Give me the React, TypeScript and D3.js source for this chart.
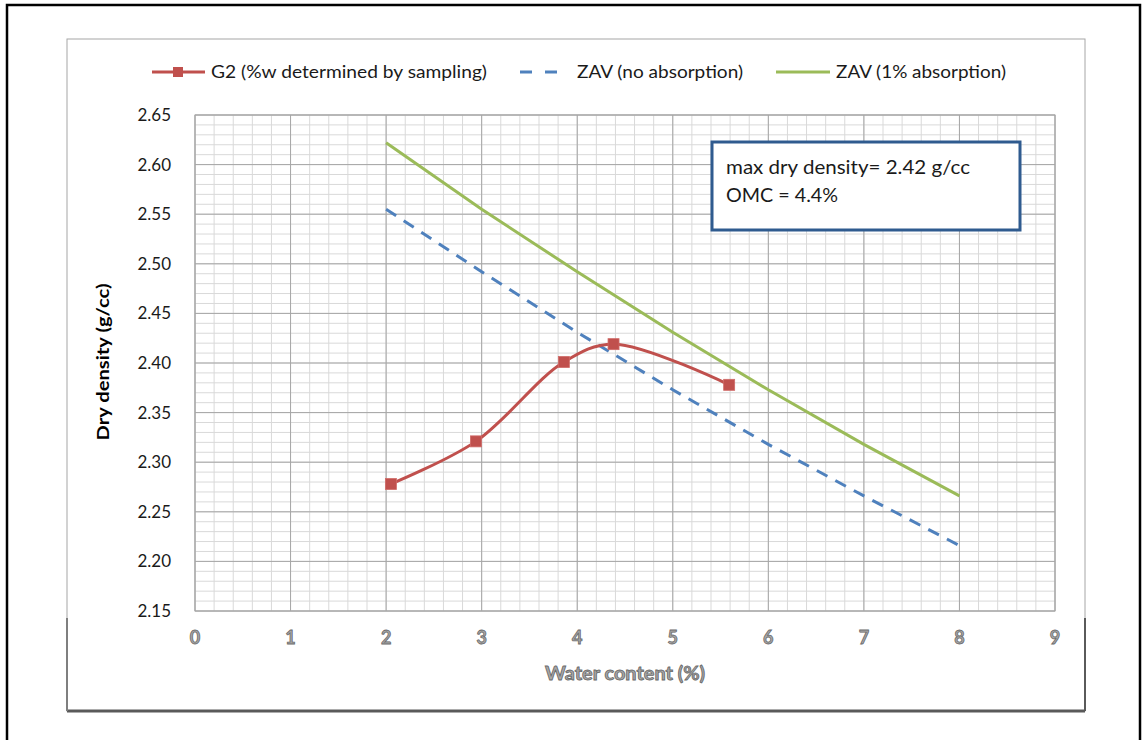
import React from 'react';
import * as d3 from 'd3';

// G2 compaction points (%w determined by sampling)
const g2Water = [2.05, 2.94, 3.86, 4.38, 5.59];
const g2Density = [2.278, 2.321, 2.401, 2.419, 2.378];

// zero air voids lines
const zavWater = [2, 3, 4, 5, 6, 7, 8];
const zavNoAbs = [2.555, 2.492, 2.431, 2.373, 2.318, 2.266, 2.216];
const zav1Abs = [2.622, 2.555, 2.492, 2.431, 2.373, 2.318, 2.266];

const xTicks = [0, 1, 2, 3, 4, 5, 6, 7, 8, 9];
const yTicks = [2.15, 2.2, 2.25, 2.3, 2.35, 2.4, 2.45, 2.5, 2.55, 2.6, 2.65];

const legendLabels = ['G2 (%w determined by sampling)', 'ZAV (no absorption)', 'ZAV (1% absorption)'];
const noteLines = ['max dry density= 2.42 g/cc', 'OMC = 4.4%'];

const RED = '#c0504d';
const BLUE = '#4f81bd';
const GREEN = '#9bbb59';
const FONT = 'Lato, "Open Sans", sans-serif';

export default function App() {
  const width = 1143;
  const height = 740;
  const plot = { left: 195, right: 1055, top: 115, bottom: 611 };

  const x = d3.scaleLinear().domain([0, 9]).range([plot.left, plot.right]);
  const y = d3.scaleLinear().domain([2.15, 2.65]).range([plot.bottom, plot.top]);

  const minorX = d3.range(0, 9.0001, 0.2);
  const minorY = d3.range(2.15, 2.6501, 0.01);

  const line = d3.line<[number, number]>().x(d => x(d[0])).y(d => y(d[1]));
  const smooth = d3.line<[number, number]>().x(d => x(d[0])).y(d => y(d[1])).curve(d3.curveCatmullRom.alpha(0.5));

  const g2 = g2Water.map((w, i) => [w, g2Density[i]] as [number, number]);
  const noAbs = zavWater.map((w, i) => [w, zavNoAbs[i]] as [number, number]);
  const oneAbs = zavWater.map((w, i) => [w, zav1Abs[i]] as [number, number]);

  // washed-out grey look of the x axis text
  const greyText = { fill: '#a8a8a8', stroke: '#6a6a6a', strokeWidth: 0.8 };

  return (
    <svg width={width} height={height} style={{ position: 'absolute', left: 0, top: 0, background: '#fff' }} fontFamily={FONT}>
      {/* outer page frame */}
      <rect x={7} y={5} width={1133} height={760} fill="none" stroke="#000" strokeWidth={2.5} />
      {/* chart frame */}
      <rect x={67} y={39} width={1018} height={672} fill="#fff" stroke="#a6a6a6" strokeWidth={1} />
      <line x1={67} x2={1085} y1={711} y2={711} stroke="#5a5a5a" strokeWidth={3} />
      <line x1={67} x2={67} y1={618} y2={711} stroke="#7f7f7f" strokeWidth={2} />
      <line x1={1085} x2={1085} y1={618} y2={711} stroke="#5a5a5a" strokeWidth={2} />

      {/* grid */}
      {minorX.map((v, i) => (
        <line key={'mx' + i} x1={x(v)} x2={x(v)} y1={plot.top} y2={plot.bottom} stroke="#d9d9d9" strokeWidth={1} />
      ))}
      {minorY.map((v, i) => (
        <line key={'my' + i} x1={plot.left} x2={plot.right} y1={y(v)} y2={y(v)} stroke="#d9d9d9" strokeWidth={1} />
      ))}
      {xTicks.map(v => (
        <line key={'gx' + v} x1={x(v)} x2={x(v)} y1={plot.top} y2={plot.bottom} stroke="#a6a6a6" strokeWidth={1} />
      ))}
      {yTicks.map(v => (
        <line key={'gy' + v} x1={plot.left} x2={plot.right} y1={y(v)} y2={y(v)} stroke="#a6a6a6" strokeWidth={1} />
      ))}
      <rect x={plot.left} y={plot.top} width={plot.right - plot.left} height={plot.bottom - plot.top} fill="none" stroke="#a6a6a6" />

      {/* y tick labels */}
      {yTicks.map(v => (
        <text key={'ty' + v} x={171} y={y(v)} dy="0.35em" textAnchor="end" fontSize={17} fill="#1a1a1a">
          {d3.format('.2f')(v)}
        </text>
      ))}
      {/* x tick labels */}
      {xTicks.map(v => (
        <text key={'tx' + v} x={x(v)} y={644} textAnchor="middle" fontSize={18} fontWeight="bold" {...greyText}>
          {v}
        </text>
      ))}

      {/* axis titles */}
      <text x={625} y={680} textAnchor="middle" fontSize={18} fontWeight="bold" textLength={160} lengthAdjust="spacingAndGlyphs" {...greyText}>
        Water content (%)
      </text>
      <text transform={`translate(109,362) rotate(-90)`} textAnchor="middle" fontSize={17} fontWeight="bold" fill="#000"
        textLength={157} lengthAdjust="spacingAndGlyphs">
        Dry density (g/cc)
      </text>

      {/* series */}
      <path d={line(oneAbs) || ''} fill="none" stroke={GREEN} strokeWidth={3} />
      <path d={line(noAbs) || ''} fill="none" stroke={BLUE} strokeWidth={3} strokeDasharray="12,9" />
      <path d={smooth(g2) || ''} fill="none" stroke={RED} strokeWidth={3} />
      {g2.map((d, i) => (
        <rect key={'m' + i} x={x(d[0]) - 5.5} y={y(d[1]) - 5.5} width={11} height={11} fill={RED} stroke="#d06b68" strokeWidth={0.8} />
      ))}

      {/* annotation */}
      <rect x={712} y={142} width={308} height={88} fill="#fff" stroke="#2f5b8f" strokeWidth={3} />
      {noteLines.map((t, i) => (
        <text key={'n' + i} x={726} y={174 + i * 28} fontSize={19} fill="#1a1a1a"
          textLength={i === 0 ? 244 : 112} lengthAdjust="spacingAndGlyphs">{t}</text>
      ))}

      {/* legend */}
      <g fontSize={18} fill="#1a1a1a">
        <line x1={152} x2={205} y1={72} y2={72} stroke={RED} strokeWidth={3} />
        <rect x={173} y={67} width={10} height={10} fill={RED} />
        <text x={211} y={72} dy="0.35em" textLength={276} lengthAdjust="spacingAndGlyphs">{legendLabels[0]}</text>
        <line x1={520} x2={562} y1={72} y2={72} stroke={BLUE} strokeWidth={3} strokeDasharray="12,13" />
        <text x={577} y={72} dy="0.35em" textLength={166} lengthAdjust="spacingAndGlyphs">{legendLabels[1]}</text>
        <line x1={776} x2={830} y1={72} y2={72} stroke={GREEN} strokeWidth={3} />
        <text x={836} y={72} dy="0.35em" textLength={170} lengthAdjust="spacingAndGlyphs">{legendLabels[2]}</text>
      </g>
    </svg>
  );
}
